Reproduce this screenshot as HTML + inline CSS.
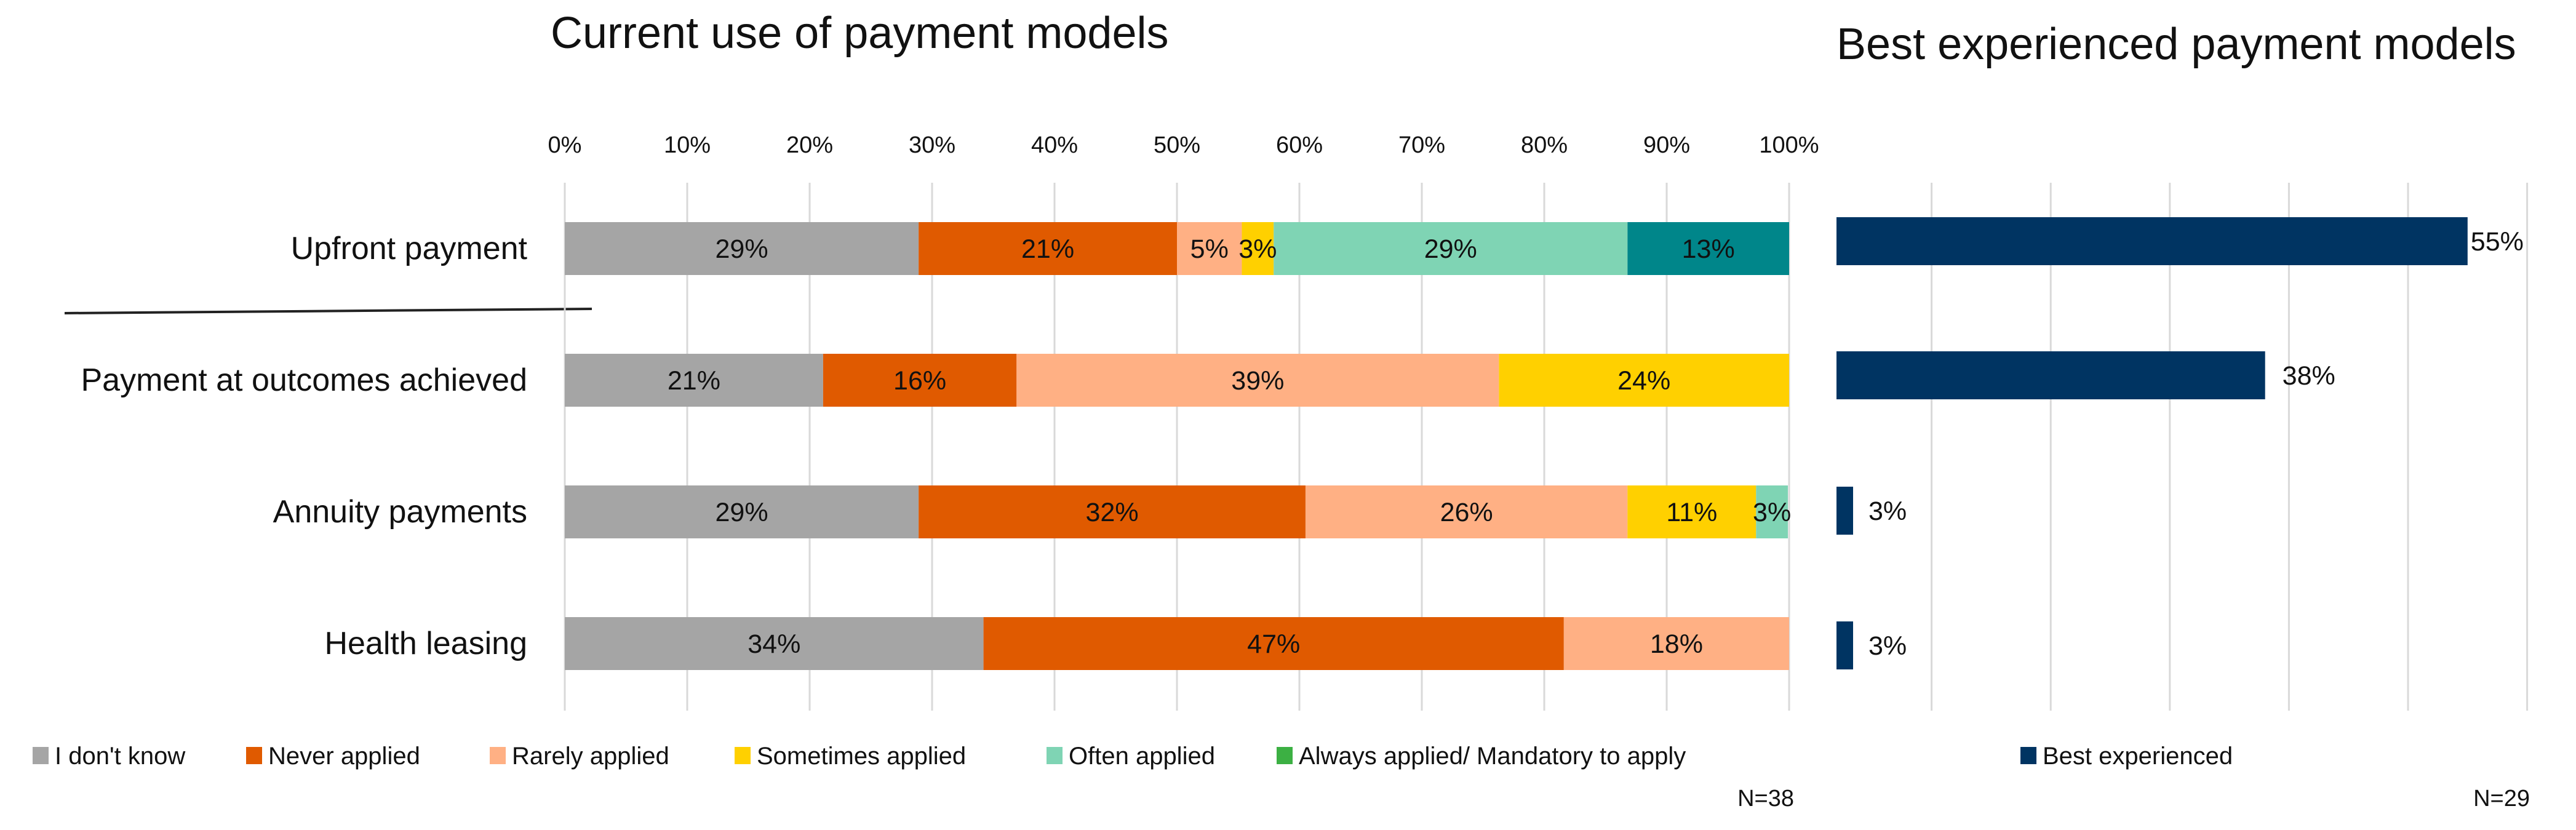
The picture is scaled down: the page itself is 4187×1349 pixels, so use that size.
<!DOCTYPE html>
<html><head><meta charset="utf-8"><style>
html,body{margin:0;padding:0;background:#fff;}
svg{display:block;font-family:"Liberation Sans",sans-serif;}
</style></head><body>
<svg id="chart" width="4187" height="1349" viewBox="0 0 4187 1349">
<text x="895" y="78" font-size="72" fill="#111">Current use of payment models</text>
<text x="2985" y="96" font-size="72" fill="#111">Best experienced payment models</text>
<line x1="105" y1="509" x2="962" y2="502" stroke="#222" stroke-width="4"/>
<g id="grid"></g><g id="bars"></g><g id="labels"></g><g id="legend"></g>
<text x="2916" y="1310" font-size="38" text-anchor="end" fill="#111">N=38</text>
<text x="4112" y="1310" font-size="38" text-anchor="end" fill="#111">N=29</text>
</svg>
<script>
const categories = ["Upfront payment","Payment at outcomes achieved","Annuity payments","Health leasing"];
const seriesNames = ["I don't know","Never applied","Rarely applied","Sometimes applied","Often applied","Always applied/ Mandatory to apply"];
const dontKnow = [28.9,21.1,28.9,34.2];
const neverApplied = [21.1,15.8,31.6,47.4];
const rarelyApplied = [5.3,39.4,26.3,18.4];
const sometimesApplied = [2.6,23.7,10.5,0];
const oftenApplied = [28.9,0,2.6,0];
const alwaysApplied = [13.2,0,0,0];
const bestExperienced = [55,38,3,3];
const tickLabels = ["0%","10%","20%","30%","40%","50%","60%","70%","80%","90%","100%"];

const colors = ["#A5A5A5","#E05A00","#FFB084","#FFD000","#7FD4B4","#00868A"];
const legendColors = ["#A5A5A5","#E05A00","#FFB084","#FFD000","#7FD4B4","#3CB043"];
const series = [dontKnow,neverApplied,rarelyApplied,sometimesApplied,oftenApplied,alwaysApplied];
const NS="http://www.w3.org/2000/svg";
function mk(tag,attrs,parent,txt){const e=document.createElementNS(NS,tag);for(const k in attrs)e.setAttribute(k,attrs[k]);if(txt!==undefined)e.textContent=txt;parent.appendChild(e);return e;}
const xL=v=>918+v*19.9;
const xR=v=>2946+v*19.36;
const yL=i=>404+i*214;
const yR=i=>392+i*219;
const grid=document.getElementById('grid'),bars=document.getElementById('bars'),labels=document.getElementById('labels'),legend=document.getElementById('legend');

tickLabels.forEach((t,k)=>{
  const x=xL(k*10);
  const l=mk('line',{x1:x,y1:297,x2:x,y2:1155,stroke:'#d9d9d9','stroke-width':3},grid);
  
  
  const tx=mk('text',{x:x,y:248,'font-size':38,'text-anchor':'middle',fill:'#111'},grid,t);
  
  
});
for(let k=1;k<=6;k++){
  const x=xR(k*10);
  const l=mk('line',{x1:x,y1:297,x2:x,y2:1155,stroke:'#d9d9d9','stroke-width':3},grid);
  
  
}
categories.forEach((c,i)=>{
  const cy=yL(i);
  const t=mk('text',{x:857,y:cy+17,'font-size':52,'text-anchor':'end',fill:'#111'},labels,c);
  
  
  let acc=0;
  series.forEach((s,j)=>{
    const v=s[i]; if(v<=0) return;
    const x0=xL(acc),x1=xL(acc+v); acc+=v;
    const r=mk('rect',{x:x0,y:cy-43,width:x1-x0,height:86,fill:colors[j]},bars);
    
    
    const lt=mk('text',{x:(x0+x1)/2,y:cy+15,'font-size':43,'text-anchor':'middle',fill:'#111'},labels,Math.round(v)+'%');
    
    
  });
  const by=[392,610,830,1049][i];
  const bx0=2985,bx1=Math.max(xR(bestExperienced[i]),3012);
  const rb=mk('rect',{x:bx0,y:by-39,width:bx1-bx0,height:78,fill:'#003462'},bars);
  
  
  const bl=mk('text',{x:bx1+(i<2?(i==0?5:28):25),y:by+15,'font-size':43,fill:'#111'},labels,bestExperienced[i]+'%');
  
  
});
const legX=[53,400,796,1194,1701,2075];
seriesNames.forEach((n,j)=>{
  const r=mk('rect',{x:legX[j],y:1214,width:26,height:28,fill:legendColors[j]},legend);
  
  
  const t=mk('text',{x:legX[j]+36,y:1242,'font-size':40,fill:'#111'},legend,n);
  
  
});
const rb=mk('rect',{x:3284,y:1214,width:26,height:28,fill:'#003462'},legend);


const rt=mk('text',{x:3320,y:1242,'font-size':40,fill:'#111'},legend,'Best experienced');


</script>
</body></html>
